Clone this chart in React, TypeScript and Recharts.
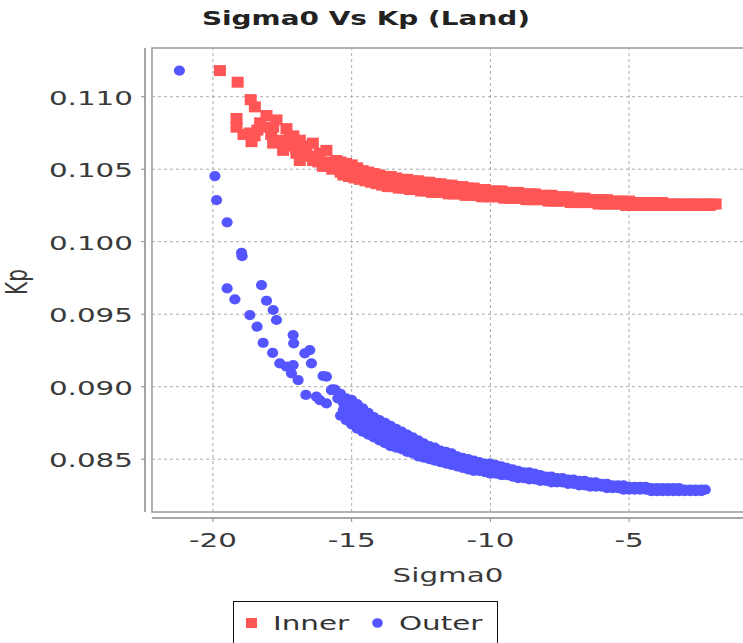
import React from 'react';
import { ScatterChart, Scatter, XAxis, YAxis, ReferenceLine, ReferenceArea, Legend } from 'recharts';

const FONT = '"DejaVu Sans", Verdana, sans-serif';
const SX = 1.47;
const TEXT = '#3a3a3a';

const xTicks = [-20, -15, -10, -5];
const yTicks = [0.085, 0.09, 0.095, 0.1, 0.105, 0.11];
const yTickLabels = ['0.085', '0.090', '0.095', '0.100', '0.105', '0.110'];

// ---- Inner (red squares) ----
const innerSparseSigma0 = [
  -19.75, -19.11, -18.64, -18.49, -19.15, -19.15, -18.67, -18.61, -18.07, -18.3,
  -17.71, -17.35, -17.83, -17.47, -16.87, -17.1, -16.63, -16.15, -16.87, -16.04,
  -15.55, -15.19, -14.83, -17.83, -17.23, -16.4, -15.91, -16.99, -16.39, -15.91,
  -15.7, -15.4, -16.2,
  -18.4, -18.2, -17.9, -17.6, -17.2, -16.8, -16.5, -16.2, -15.8, -16.7, -17.0, -18.9, -18.5,
];
const innerSparseKp = [
  0.1118, 0.111, 0.1098, 0.1093, 0.1085, 0.1079, 0.1075, 0.1069, 0.1087, 0.1082,
  0.1084, 0.1078, 0.1068, 0.1063, 0.107, 0.1073, 0.1063, 0.1061, 0.1056, 0.1052,
  0.1056, 0.1048, 0.1047, 0.1079, 0.1072, 0.1068, 0.1063, 0.1061, 0.1056, 0.1052,
  0.105, 0.1048, 0.1055,
  0.1077, 0.1079, 0.1074, 0.107, 0.1066, 0.1066, 0.1059, 0.1058, 0.1055, 0.106, 0.1064, 0.1074, 0.1073,
];
const innerUpperSigma0 = [
  -15.4, -15.2, -15.0, -14.8, -14.6, -14.4, -14.2, -14.0, -13.8, -13.6, -13.4, -13.2, -13.0,
  -12.8, -12.6, -12.4, -12.2, -12.0, -11.8, -11.6, -11.4, -11.2, -11.0, -10.8, -10.6, -10.4,
  -10.2, -10.0, -9.8, -9.6, -9.4, -9.2, -9.0, -8.8, -8.6, -8.4, -8.2, -8.0, -7.8, -7.6, -7.4,
  -7.2, -7.0, -6.8, -6.6, -6.4, -6.2, -6.0, -5.8, -5.6, -5.4, -5.2, -5.0, -4.8, -4.6, -4.4,
  -4.2, -4.0, -3.8, -3.6, -3.4, -3.2, -3.0, -2.8, -2.6, -2.4, -2.2, -2.0, -1.88,
];
const innerUpperKp = [
  0.1055, 0.1054, 0.1053, 0.1051, 0.1049, 0.1048, 0.1047, 0.1046, 0.1045, 0.1045, 0.1044, 0.1043, 0.1043,
  0.1042, 0.1042, 0.1041, 0.1041, 0.104, 0.104, 0.1039, 0.1039, 0.1038, 0.1038, 0.1037, 0.1037, 0.1036,
  0.1036, 0.1035, 0.1035, 0.1035, 0.1034, 0.1034, 0.1034, 0.1033, 0.1033, 0.1033, 0.1032, 0.1032, 0.1032, 0.1031, 0.1031,
  0.1031, 0.103, 0.103, 0.103, 0.1029, 0.1029, 0.1029, 0.1029, 0.1028, 0.1028, 0.1028, 0.1028, 0.1027, 0.1027, 0.1027,
  0.1027, 0.1027, 0.1027, 0.1026, 0.1026, 0.1026, 0.1026, 0.1026, 0.1026, 0.1026, 0.1026, 0.1026, 0.1026,
];
const innerLowerSigma0 = [
  -15.3, -15.1, -14.9, -14.7, -14.5, -14.3, -14.1, -13.9, -13.7, -13.5, -13.3, -13.1, -12.9,
  -12.7, -12.5, -12.3, -12.1, -11.9, -11.7, -11.5, -11.3, -11.1, -10.9, -10.7, -10.5, -10.3,
  -10.1, -9.9, -9.7, -9.5, -9.3, -9.1, -8.9, -8.7, -8.5, -8.3, -8.1, -7.9, -7.7, -7.5, -7.3,
  -7.1, -6.9, -6.7, -6.5, -6.3, -6.1, -5.9, -5.7, -5.5, -5.3, -5.1, -4.9, -4.7, -4.5, -4.3,
  -4.1, -3.9, -3.7, -3.5, -3.3, -3.1, -2.9, -2.7, -2.5, -2.3, -2.1,
];
const innerLowerKp = [
  0.1046, 0.1045, 0.1044, 0.1043, 0.1042, 0.1041, 0.104, 0.1039, 0.1038, 0.1038, 0.1037, 0.1037, 0.1036,
  0.1036, 0.1035, 0.1035, 0.1034, 0.1034, 0.1034, 0.1033, 0.1033, 0.1033, 0.1032, 0.1032, 0.1032, 0.1031,
  0.1031, 0.1031, 0.1031, 0.103, 0.103, 0.103, 0.103, 0.1029, 0.1029, 0.1029, 0.1029, 0.1028, 0.1028, 0.1028, 0.1028,
  0.1027, 0.1027, 0.1027, 0.1027, 0.1027, 0.1026, 0.1026, 0.1026, 0.1026, 0.1026, 0.1025, 0.1025, 0.1025, 0.1025, 0.1025,
  0.1025, 0.1025, 0.1025, 0.1025, 0.1025, 0.1025, 0.1025, 0.1025, 0.1025, 0.1025, 0.1025,
];

// ---- Outer (blue circles) ----
const outerSparseSigma0 = [
  -21.21, -19.93, -19.87, -19.49, -18.97, -18.95, -19.49, -19.21, -18.25, -18.07, -17.83,
  -17.71, -18.67, -18.41, -18.19, -17.85, -17.59, -17.35, -17.11, -16.93, -17.17,
  -17.11, -17.09, -16.69, -16.51, -16.45, -16.03, -15.91, -15.69, -16.65, -16.27,
  -15.91, -16.15, -15.73,
];
const outerSparseKp = [
  0.1118, 0.10453, 0.10287, 0.10134, 0.09924, 0.099, 0.09678, 0.09603, 0.09701, 0.09593, 0.09529,
  0.0946, 0.09494, 0.09414, 0.09303, 0.09234, 0.09161, 0.09138, 0.09149, 0.09046, 0.09092,
  0.09356, 0.09299, 0.0923, 0.09253, 0.09161, 0.09074, 0.09069, 0.08982, 0.08943, 0.08931,
  0.08885, 0.08908, 0.08977,
];
const outerUpperSigma0 = [
  -15.6, -15.4, -15.2, -15.0, -14.8, -14.6, -14.4, -14.2, -14.0, -13.8, -13.6, -13.4, -13.2,
  -13.0, -12.8, -12.6, -12.4, -12.2, -12.0, -11.8, -11.6, -11.4, -11.2, -11.0, -10.8, -10.6,
  -10.4, -10.2, -10.0, -9.8, -9.6, -9.4, -9.2, -9.0, -8.8, -8.6, -8.4, -8.2, -8.0, -7.8, -7.6,
  -7.4, -7.2, -7.0, -6.8, -6.6, -6.4, -6.2, -6.0, -5.8, -5.6, -5.4, -5.2, -5.0, -4.8, -4.6,
  -4.4, -4.2, -4.0, -3.8, -3.6, -3.4, -3.2, -3.0, -2.8, -2.6, -2.4, -2.25,
];
const outerUpperKp = [
  0.0898, 0.0895, 0.0892, 0.0891, 0.0888, 0.0885, 0.0882, 0.0879, 0.0877, 0.0875, 0.0873, 0.0871, 0.0869,
  0.0867, 0.0865, 0.0863, 0.0861, 0.0859, 0.0858, 0.0856, 0.0855, 0.0854, 0.0852, 0.0851, 0.085, 0.0849,
  0.0848, 0.0847, 0.0847, 0.0846, 0.0845, 0.0844, 0.0843, 0.0842, 0.0841, 0.0841, 0.084, 0.0839, 0.0838, 0.0838, 0.0837,
  0.0837, 0.0836, 0.0836, 0.0835, 0.0835, 0.0834, 0.0834, 0.0833, 0.0833, 0.0832, 0.0832, 0.0832, 0.0831, 0.0831, 0.0831,
  0.0831, 0.083, 0.083, 0.083, 0.083, 0.083, 0.083, 0.0829, 0.0829, 0.0829, 0.0829, 0.0829,
];
const outerUpper2Sigma0 = [
  -15.5, -15.3, -15.1, -14.9, -14.7, -14.5, -14.3, -14.1, -13.9, -13.7, -13.5, -13.3, -13.1, -12.9,
  -12.7, -12.5, -12.3, -12.1, -11.9, -11.7, -11.5, -11.3, -11.1, -10.9, -10.7, -10.5, -10.3, -10.1,
];
const outerUpper2Kp = [
  0.0892, 0.0889, 0.0887, 0.0884, 0.0882, 0.0879, 0.0877, 0.0874, 0.0872, 0.087, 0.0868, 0.0866, 0.0864, 0.0862,
  0.0861, 0.0859, 0.0858, 0.0856, 0.0855, 0.0854, 0.0852, 0.0851, 0.085, 0.0849, 0.0848, 0.0847, 0.0846, 0.0845,
];
const outerMiddleSigma0 = [
  -15.3, -15.1, -14.9, -14.7, -14.5, -14.3, -14.1, -13.9, -13.7, -13.5, -13.3,
  -13.1, -12.9, -12.7, -12.5, -12.3, -12.1, -11.9, -11.7, -11.5, -11.3, -11.1,
  -10.9, -10.7, -10.5, -10.3, -10.1, -9.9, -9.7, -9.5, -9.3, -9.1,
];
const outerMiddleKp = [
  0.0884, 0.0881, 0.0878, 0.0876, 0.0873, 0.0871, 0.0869, 0.0867, 0.0865, 0.0863, 0.0862,
  0.086, 0.0859, 0.0857, 0.0856, 0.0854, 0.0853, 0.0852, 0.0851, 0.085, 0.0849, 0.0848,
  0.0847, 0.0846, 0.0845, 0.0845, 0.0844, 0.0843, 0.0843, 0.0842, 0.0841, 0.0841,
];
const outerLowerSigma0 = [
  -15.4, -15.2, -15.0, -14.8, -14.6, -14.4, -14.2, -14.0, -13.8, -13.6, -13.4, -13.2, -13.0,
  -12.8, -12.6, -12.4, -12.2, -12.0, -11.8, -11.6, -11.4, -11.2, -11.0, -10.8, -10.6, -10.4,
  -10.2, -10.0, -9.8, -9.6, -9.4, -9.2, -9.0, -8.8, -8.6, -8.4, -8.2, -8.0, -7.8, -7.6, -7.4,
  -7.2, -7.0, -6.8, -6.6, -6.4, -6.2, -6.0, -5.8, -5.6, -5.4, -5.2, -5.0, -4.8, -4.6, -4.4,
  -4.2, -4.0, -3.8, -3.6, -3.4, -3.2, -3.0, -2.8, -2.6, -2.4,
];
const outerLowerKp = [
  0.088, 0.0877, 0.0874, 0.0871, 0.0869, 0.0867, 0.0865, 0.0863, 0.0861, 0.0859, 0.0858, 0.0857, 0.0855,
  0.0854, 0.0852, 0.0851, 0.085, 0.0849, 0.0848, 0.0847, 0.0846, 0.0845, 0.0844, 0.0843, 0.0842, 0.0842,
  0.0841, 0.084, 0.084, 0.0839, 0.0839, 0.0838, 0.0837, 0.0837, 0.0836, 0.0836, 0.0835, 0.0835, 0.0834, 0.0834, 0.0834,
  0.0833, 0.0833, 0.0832, 0.0832, 0.0831, 0.0831, 0.0831, 0.083, 0.083, 0.083, 0.0829, 0.0829, 0.0829, 0.0829, 0.0829,
  0.0828, 0.0828, 0.0828, 0.0828, 0.0828, 0.0828, 0.0828, 0.0828, 0.0828, 0.0828,
];

const toPoints = (xs: number[], ys: number[]) => xs.map((x, i) => ({ x, y: ys[i] }));

const innerData = [
  ...toPoints(innerSparseSigma0, innerSparseKp),
  ...toPoints(innerUpperSigma0, innerUpperKp),
  ...toPoints(innerLowerSigma0, innerLowerKp),
];
const outerData = [
  ...toPoints(outerSparseSigma0, outerSparseKp),
  ...toPoints(outerUpperSigma0, outerUpperKp),
  ...toPoints(outerUpper2Sigma0, outerUpper2Kp),
  ...toPoints(outerMiddleSigma0, outerMiddleKp),
  ...toPoints(outerLowerSigma0, outerLowerKp),
];

const X_MIN = -22.45;
const X_MAX = -0.28;
const Y_MIN = 0.080945;
const Y_MAX = 0.11336;
const BORDER_X = -22.198;
const BORDER_Y = 0.081359;

const SquareShape = (p: any) => (
  <rect x={p.cx - 6} y={p.cy - 5.5} width={12} height={11} fill="#FF5555" />
);
const DotShape = (p: any) => (
  <ellipse cx={p.cx} cy={p.cy} rx={5.6} ry={5.1} fill="#5555FF" />
);

const XTick = (p: any) => (
  <g transform={`translate(${p.x},${p.y})`}>
    <text transform={`scale(${SX},1)`} x={0} y={25} textAnchor="middle" fontFamily={FONT} fontSize={20} fill={TEXT}>
      {String(p.payload.value)}
    </text>
  </g>
);

const YTick = (p: any) => {
  const idx = yTicks.findIndex((t) => Math.abs(t - p.payload.value) < 1e-9);
  const label = idx >= 0 ? yTickLabels[idx] : String(p.payload.value);
  return (
    <g transform={`translate(${p.x - 8},${p.y})`}>
      <text transform={`scale(${SX},1)`} x={0} y={8} textAnchor="end" fontFamily={FONT} fontSize={20} fill={TEXT}>
        {label}
      </text>
    </g>
  );
};

const XLabel = (p: any) => {
  const vb = p.viewBox || { x: 145, y: 518 };
  return (
    <g transform={`translate(${vb.x + 303},${vb.y + 64})`}>
      <text transform={`scale(${SX},1)`} x={0} y={0} textAnchor="middle" fontFamily={FONT} fontSize={20} fill={TEXT}>
        Sigma0
      </text>
    </g>
  );
};

const YLabel = () => (
  <g transform={`translate(27,282) scale(${SX},1) rotate(-90)`}>
    <text x={0} y={0} textAnchor="middle" fontFamily={FONT} fontSize={20} fill={TEXT}>
      Kp
    </text>
  </g>
);

const LegendBox = () => (
  <div
    style={{
      position: 'absolute',
      left: 233,
      top: 601,
      width: 265,
      height: 60,
      border: '1.5px solid #111',
      boxSizing: 'border-box',
      background: '#fff',
    }}
  >
    <svg width={262} height={58} style={{ display: 'block' }}>
      <rect x={12} y={16} width={11} height={10} fill="#FF5555" />
      <g transform="translate(39,28)">
        <text transform={`scale(${SX},1)`} fontFamily={FONT} fontSize={20} fill="#333">Inner</text>
      </g>
      <ellipse cx={143.5} cy={21} rx={5.3} ry={4.8} fill="#5555FF" />
      <g transform="translate(165,28)">
        <text transform={`scale(${SX},1)`} fontFamily={FONT} fontSize={20} fill="#333">Outer</text>
      </g>
    </svg>
  </div>
);

export default function App() {
  return (
    <div style={{ position: 'absolute', left: 0, top: 0, width: 743, height: 643, overflow: 'hidden', background: '#fff' }}>
      <div
        style={{
          position: 'absolute',
          left: 366,
          top: 6,
          transform: `translateX(-50%) scale(${SX},1)`,
          fontFamily: FONT,
          fontWeight: 'bold',
          fontSize: 19,
          color: '#222',
          whiteSpace: 'nowrap',
          lineHeight: '24px',
        }}
      >
        Sigma0 Vs Kp (Land)
      </div>
      <ScatterChart width={760} height={643} margin={{ top: 48, right: 0, bottom: 0, left: 0 }}>
        <XAxis
          type="number"
          dataKey="x"
          domain={[X_MIN, X_MAX]}
          ticks={xTicks}
          allowDataOverflow
          axisLine={false}
          tickLine={{ stroke: '#888' }}
          tickSize={4}
          tickMargin={0}
          height={125}
          tick={<XTick />}
          label={<XLabel />}
        />
        <YAxis
          type="number"
          dataKey="y"
          domain={[Y_MIN, Y_MAX]}
          ticks={yTicks}
          allowDataOverflow
          axisLine={false}
          tickLine={{ stroke: '#888' }}
          tickSize={4}
          tickMargin={0}
          width={145}
          tick={<YTick />}
          label={<YLabel />}
        />
        <ReferenceArea
          x1={BORDER_X}
          x2={X_MAX}
          y1={BORDER_Y}
          y2={Y_MAX}
          fill="#fff"
          fillOpacity={1}
          stroke="#999"
          strokeWidth={1.5}
          ifOverflow="visible"
        />
        {xTicks.map((t) => (
          <ReferenceLine
            key={'vx' + t}
            segment={[{ x: t, y: BORDER_Y }, { x: t, y: Y_MAX }]}
            stroke="#aaa"
            strokeDasharray="3 3"
            ifOverflow="visible"
          />
        ))}
        {yTicks.map((t) => (
          <ReferenceLine
            key={'hy' + t}
            segment={[{ x: BORDER_X, y: t }, { x: X_MAX, y: t }]}
            stroke="#aaa"
            strokeDasharray="3 3"
            ifOverflow="visible"
          />
        ))}
        <ReferenceLine
          segment={[{ x: BORDER_X, y: Y_MIN }, { x: X_MAX, y: Y_MIN }]}
          stroke="#888"
          strokeWidth={1.5}
          ifOverflow="visible"
        />
        <ReferenceLine
          segment={[{ x: X_MIN, y: BORDER_Y }, { x: X_MIN, y: Y_MAX }]}
          stroke="#888"
          strokeWidth={1.5}
          ifOverflow="visible"
        />
        <Scatter name="Inner" data={innerData} fill="#FF5555" shape={SquareShape} isAnimationActive={false} />
        <Scatter name="Outer" data={outerData} fill="#5555FF" shape={DotShape} isAnimationActive={false} />
        <Legend
          content={<LegendBox />}
          wrapperStyle={{ position: 'absolute', left: 0, top: 0, width: 0, height: 0, overflow: 'visible' }}
        />
      </ScatterChart>
    </div>
  );
}
